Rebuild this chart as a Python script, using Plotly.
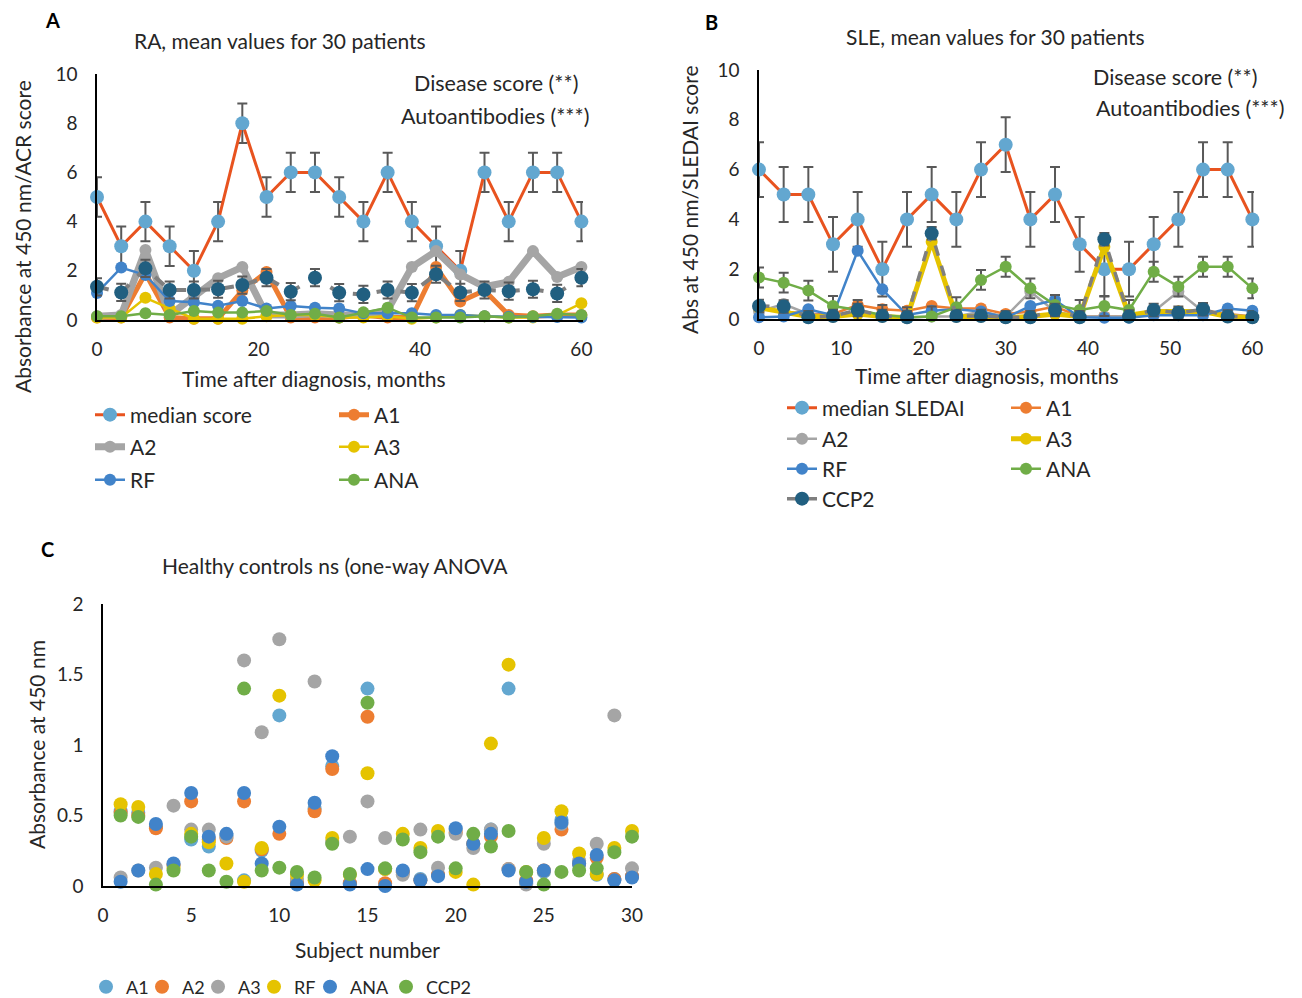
import plotly.graph_objects as go

# ── Data ───────────────────────────────────────────────────────────────────
months = [0, 3, 6, 9, 12, 15, 18, 21, 24, 27, 30, 33, 36, 39, 42, 45, 48, 51, 54, 57, 60]

# Panel A: RA
ra_median = [5, 3, 4, 3, 2, 4, 8, 5, 6, 6, 5, 4, 6, 4, 3, 2, 6, 4, 6, 6, 4]
ra_a1 = [0.1, 0.1, 1.9, 0.1, 0.05, 0.05, 1.2, 1.95, 0.1, 0.1, 0.1, 0.2, 0.1, 0.1, 2.15, 0.75, 1.2, 0.2, 0.15, 0.2, 0.2]
ra_a2 = [0.15, 0.2, 2.85, 0.2, 0.95, 1.7, 2.15, 0.2, 0.2, 0.25, 0.2, 0.2, 0.4, 2.15, 2.8, 1.85, 1.35, 1.55, 2.8, 1.75, 2.15]
ra_a3 = [0.1, 0.1, 0.9, 0.47, 0.05, 0.05, 0.05, 0.15, 0.2, 0.2, 0.1, 0.1, 0.15, 0.05, 0.1, 0.2, 0.15, 0.1, 0.1, 0.2, 0.68]
ra_rf = [1.1, 2.13, 1.83, 0.77, 0.72, 0.58, 0.77, 0.47, 0.57, 0.5, 0.47, 0.27, 0.27, 0.27, 0.2, 0.2, 0.15, 0.13, 0.12, 0.12, 0.1]
ra_ana = [0.15, 0.15, 0.27, 0.2, 0.37, 0.3, 0.3, 0.37, 0.2, 0.25, 0.1, 0.31, 0.5, 0.1, 0.1, 0.1, 0.15, 0.1, 0.15, 0.25, 0.2]
ra_ccp2 = [1.35, 1.12, 2.1, 1.22, 1.22, 1.25, 1.42, 1.72, 1.15, 1.72, 1.11, 1.04, 1.22, 1.11, 1.86, 1.12, 1.22, 1.17, 1.25, 1.08, 1.72]
ra_median_err = 0.8
ra_ccp2_err = 0.35

# Panel B: SLE
sle_median = [6, 5, 5, 3, 4, 2, 4, 5, 4, 6, 7, 4, 5, 3, 2, 2, 3, 4, 6, 6, 4]
sle_a1 = [0.4, 0.3, 0.2, 0.2, 0.56, 0.39, 0.33, 0.52, 0.42, 0.42, 0.2, 0.3, 0.5, 0.1, 0.1, 0.1, 0.3, 0.3, 0.35, 0.2, 0.1]
sle_a2 = [0.3, 0.6, 0.2, 0.1, 0.3, 0.1, 0.05, 0.1, 0.1, 0.3, 0.1, 1.1, 0.3, 0.1, 0.1, 0.1, 0.3, 1.1, 0.3, 0.15, 0.1]
sle_a3 = [0.45, 0.3, 0.1, 0.1, 0.2, 0.1, 0.05, 3.1, 0.1, 0.1, 0.05, 0.1, 0.2, 0.1, 2.9, 0.15, 0.3, 0.3, 0.3, 0.1, 0.05]
sle_rf = [0.07, 0.1, 0.39, 0.15, 2.74, 1.19, 0.16, 0.33, 0.39, 0.3, 0.05, 0.52, 0.76, 0.07, 0.05, 0.05, 0.15, 0.15, 0.15, 0.42, 0.33]
sle_ana = [1.67, 1.46, 1.14, 0.52, 0.36, 0.16, 0.07, 0.1, 0.47, 1.57, 2.1, 1.23, 0.56, 0.36, 0.52, 0.36, 1.9, 1.3, 2.1, 2.1, 1.23]
sle_ccp2 = [0.52, 0.5, 0.07, 0.12, 0.36, 0.12, 0.07, 3.44, 0.12, 0.12, 0.07, 0.07, 0.36, 0.07, 3.2, 0.1, 0.36, 0.25, 0.39, 0.1, 0.07]
sle_median_err = 1.1
sle_ana_err = 0.4
sle_ccp2_err = 0.25

# Panel C: healthy controls
subjects = list(range(1, 31))
hc_a1 = [0.53, 0.52, 0.42, 0.15, 0.33, 0.28, 0.36, 0.04, 0.25, 1.21, 0.02, 0.55, 0.85, 0.02, 1.40,
         0.12, 0.10, 0.05, 0.08, 0.40, 0.30, 0.40, 1.40, 0.02, 0.10, 0.47, 0.15, 0.08, 0.05, 0.07]
hc_a2 = [0.52, 0.50, 0.41, 0.15, 0.60, 0.33, 0.34, 0.60, 0.26, 0.37, 0.02, 0.53, 0.83, 0.02, 1.20,
         0.02, 0.10, 0.04, 0.08, 0.38, 0.30, 0.35, 0.12, 0.04, 0.11, 0.40, 0.16, 0.20, 0.05, 0.07]
hc_a3 = [0.06, 0.11, 0.13, 0.57, 0.40, 0.40, 0.35, 1.60, 1.09, 1.75, 0.05, 1.45, 0.31, 0.35, 0.60,
         0.34, 0.08, 0.40, 0.13, 0.37, 0.27, 0.40, 0.12, 0.01, 0.30, 0.44, 0.18, 0.30, 1.21, 0.125]
hc_rf = [0.58, 0.56, 0.085, 0.13, 0.37, 0.31, 0.16, 0.03, 0.27, 1.35, 0.08, 0.04, 0.34, 0.08, 0.80,
         0.12, 0.37, 0.27, 0.39, 0.10, 0.01, 1.01, 1.57, 0.10, 0.34, 0.53, 0.23, 0.085, 0.27, 0.39]
hc_ana = [0.03, 0.11, 0.44, 0.16, 0.66, 0.35, 0.37, 0.66, 0.16, 0.42, 0.01, 0.59, 0.92, 0.01, 0.12,
          0.00, 0.11, 0.04, 0.07, 0.41, 0.30, 0.37, 0.11, 0.03, 0.11, 0.45, 0.16, 0.22, 0.04, 0.06]
hc_ccp2 = [0.50, 0.49, 0.01, 0.11, 0.35, 0.11, 0.03, 1.40, 0.11, 0.13, 0.10, 0.06, 0.30, 0.085, 1.30,
           0.125, 0.33, 0.24, 0.35, 0.125, 0.37, 0.28, 0.39, 0.10, 0.01, 0.10, 0.11, 0.125, 0.24, 0.35]

# ── Style ──────────────────────────────────────────────────────────────────
W, H = 1302, 998
PAGE = 8   # default body margin of the html page
FONT = "Lato, 'Open Sans', sans-serif"
TXT = "#262626"
C_MED_LINE = "#E8531F"
C_MED_MK = "#63A7D0"
C_A1 = "#ED7D31"
C_A2 = "#A5A5A5"
C_A3 = "#E5C300"
C_RF = "#4183C9"
C_ANA = "#70AD47"
C_CCP2 = "#215F80"
C_CCP2_LINE = "#7F7F7F"
C_ERR = "#595959"


def px(x):
    return (x - PAGE) / W


def py(y):
    return 1 - (y - PAGE) / H


def err(v):
    return dict(type="constant", value=v, color=C_ERR, thickness=2, width=5)


fig = go.Figure()
legends = {}   # one single-entry legend per item, so the grid can be laid out exactly


def add_legend(marker_x, row_y, size=21):
    key = "legend" if not legends else f"legend{len(legends) + 1}"
    legends[key] = dict(x=px(marker_x - 20), y=py(row_y), xanchor="left", yanchor="middle",
                        bgcolor="rgba(0,0,0,0)", font=dict(family=FONT, size=size, color=TXT))
    return key


def line_trace(x, y, name, lc, mc, lw, xa, ya, pos=None, ms=12, dash="solid", e=None):
    fig.add_trace(go.Scatter(
        x=x, y=y, name=name, mode="lines+markers",
        line=dict(color=lc, width=lw, dash=dash),
        marker=dict(color=mc, size=ms),
        error_y=err(e) if e else None,
        xaxis=xa, yaxis=ya, cliponaxis=False,
        showlegend=pos is not None,
        legend=add_legend(*pos) if pos else None,
    ))


# ── Panel A ────────────────────────────────────────────────────────────────
A_C1, A_C2 = 110, 354
A_ROWS = [415, 447, 480]
line_trace(months, ra_median, "median score", C_MED_LINE, C_MED_MK, 3, "x", "y", (A_C1, A_ROWS[0]), ms=14, e=ra_median_err)
line_trace(months, ra_a1, "A1", C_A1, C_A1, 5, "x", "y", (A_C2, A_ROWS[0]))
line_trace(months, ra_a2, "A2", C_A2, C_A2, 7, "x", "y", (A_C1, A_ROWS[1]))
line_trace(months, ra_a3, "A3", C_A3, C_A3, 2.5, "x", "y", (A_C2, A_ROWS[1]))
line_trace(months, ra_rf, "RF", C_RF, C_RF, 2.5, "x", "y", (A_C1, A_ROWS[2]))
line_trace(months, ra_ana, "ANA", C_ANA, C_ANA, 2.5, "x", "y", (A_C2, A_ROWS[2]))
line_trace(months, ra_ccp2, "CCP2", C_CCP2_LINE, C_CCP2, 4, "x", "y", None, ms=14, dash="dash", e=ra_ccp2_err)

# ── Panel B ────────────────────────────────────────────────────────────────
B_C1, B_C2 = 802, 1026
B_ROWS = [408, 439, 469, 499]
line_trace(months, sle_median, "median SLEDAI", C_MED_LINE, C_MED_MK, 3, "x2", "y2", (B_C1, B_ROWS[0]), ms=14, e=sle_median_err)
line_trace(months, sle_a1, "A1", C_A1, C_A1, 2.5, "x2", "y2", (B_C2, B_ROWS[0]))
line_trace(months, sle_a2, "A2", C_A2, C_A2, 2.5, "x2", "y2", (B_C1, B_ROWS[1]))
line_trace(months, sle_a3, "A3", C_A3, C_A3, 5, "x2", "y2", (B_C2, B_ROWS[1]))
line_trace(months, sle_rf, "RF", C_RF, C_RF, 2.5, "x2", "y2", (B_C1, B_ROWS[2]))
line_trace(months, sle_ana, "ANA", C_ANA, C_ANA, 2.5, "x2", "y2", (B_C2, B_ROWS[2]), e=sle_ana_err)
line_trace(months, sle_ccp2, "CCP2", C_CCP2_LINE, C_CCP2, 3.5, "x2", "y2", (B_C1, B_ROWS[3]), ms=14, dash="dash",
           e=sle_ccp2_err)

# ── Panel C ────────────────────────────────────────────────────────────────
C_MARKER_X = [106, 162, 218, 274, 330, 406]
for (name, vals, col), mx in zip([("A1", hc_a1, C_MED_MK), ("A2", hc_a2, C_A1), ("A3", hc_a3, C_A2),
                                  ("RF", hc_rf, C_A3), ("ANA", hc_ana, C_RF), ("CCP2", hc_ccp2, C_ANA)],
                                 C_MARKER_X):
    fig.add_trace(go.Scatter(
        x=subjects, y=vals, name=name, mode="markers",
        marker=dict(color=col, size=14),
        xaxis="x3", yaxis="y3", cliponaxis=False,
        legend=add_legend(mx, 987, size=18),
    ))

# ── Axes ───────────────────────────────────────────────────────────────────
tickfont = dict(family=FONT, size=19, color=TXT)


def axis(domain, rng, dtick, anchor, standoff):
    return dict(domain=domain, range=rng, dtick=dtick, tick0=0, anchor=anchor,
                showgrid=False, zeroline=False, showline=True, linecolor="black",
                linewidth=1.5, ticks="", tickfont=tickfont, ticklabelstandoff=standoff,
                automargin=False, fixedrange=True)


fig.update_layout(
    width=W, height=H,
    margin=dict(l=0, r=0, t=0, b=0, autoexpand=False),
    paper_bgcolor="white", plot_bgcolor="white",
    font=dict(family=FONT, color=TXT),
    xaxis=axis([px(97), px(583)], [0, 60.2], 20, "y", 11),
    yaxis=axis([py(320), py(74)], [0, 10], 2, "x", 14),
    xaxis2=axis([px(759), px(1254)], [0, 60.2], 10, "y2", 11),
    yaxis2=axis([py(319), py(70)], [0, 10], 2, "x2", 14),
    xaxis3=axis([px(103), px(632)], [0, 30], 5, "y3", 11),
    yaxis3=axis([py(886), py(604)], [0, 2], 0.5, "x3", 14),
    **legends,
)

# ── Text ───────────────────────────────────────────────────────────────────
def note(text, x, y, size=21, xanchor="center", bold=False, angle=0):
    fig.add_annotation(text=f"<b>{text}</b>" if bold else text, x=px(x), y=py(y),
                       xref="paper", yref="paper", showarrow=False, xanchor=xanchor,
                       yanchor="middle", textangle=angle,
                       font=dict(family=FONT, size=size, color="black" if bold else TXT))


note("A", 52, 20, size=20, bold=True)
note("B", 711, 22, size=20, bold=True)
note("C", 47, 549, size=20, bold=True)

note("RA, mean values for 30 patients", 280, 40)
note("SLE, mean values for 30 patients", 995, 37)
note("Healthy controls ns (one-way ANOVA", 335, 565)

note("Disease score (**)", 580, 83, size=21.5, xanchor="right")
note("Autoantibodies (***)", 591, 116, size=21.5, xanchor="right")
note("Disease score (**)", 1259, 77, size=21.5, xanchor="right")
note("Autoantibodies (***)", 1286, 108, size=21.5, xanchor="right")

note("Time after diagnosis, months", 314, 378)
note("Time after diagnosis, months", 987, 376)
note("Subject number", 367, 949)

note("Absorbance at 450 nm/ACR score", 22, 237, angle=-90)
note("Abs at 450 nm/SLEDAI score", 690, 200, angle=-90)
note("Absorbance at 450 nm", 36, 745, angle=-90)

fig.write_html("out.html")
